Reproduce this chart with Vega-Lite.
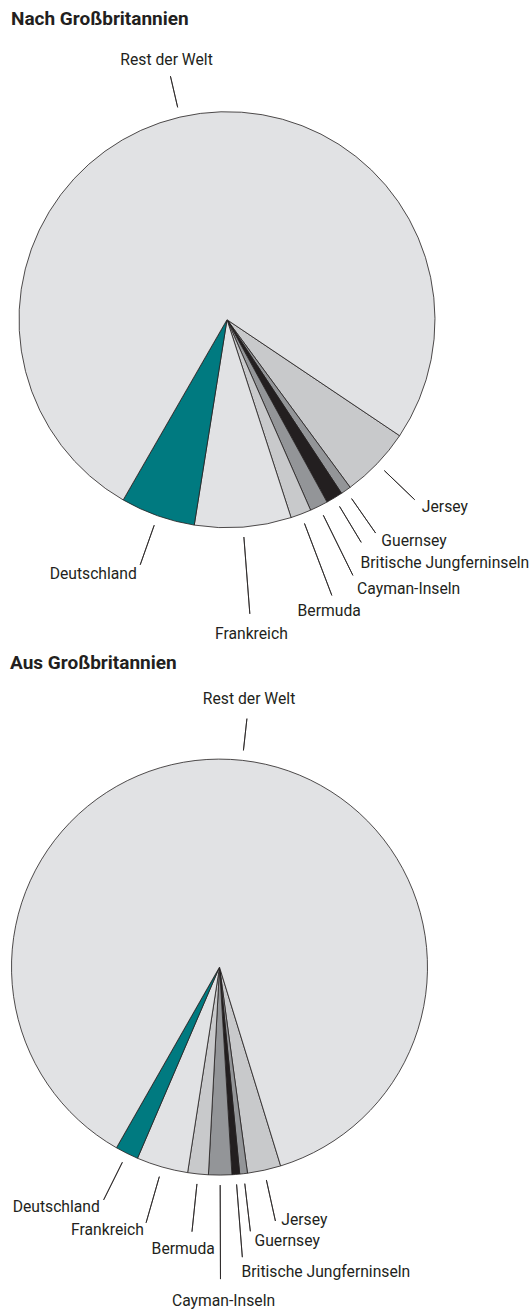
{
  "$schema": "https://vega.github.io/schema/vega-lite/v6.json",
  "padding": {"left": 9, "top": 10, "right": 0, "bottom": 0},
  "bounds": "flush",
  "spacing": 75.9,
  "config": {"view": {"stroke": null}},
  "datasets": {
    "nach": [
      {"land": "Jersey", "anteil": 5.5, "nr": 1},
      {"land": "Guernsey", "anteil": 0.8, "nr": 2},
      {"land": "Britische Jungferninseln", "anteil": 1.3, "nr": 3},
      {"land": "Cayman-Inseln", "anteil": 1.4, "nr": 4},
      {"land": "Bermuda", "anteil": 1.6, "nr": 5},
      {"land": "Frankreich", "anteil": 7.5, "nr": 6},
      {"land": "Deutschland", "anteil": 5.8, "nr": 7},
      {"land": "Rest der Welt", "anteil": 76.1, "nr": 8}
    ],
    "aus": [
      {"land": "Jersey", "anteil": 2.6, "nr": 1},
      {"land": "Guernsey", "anteil": 0.6, "nr": 2},
      {"land": "Britische Jungferninseln", "anteil": 0.6, "nr": 3},
      {"land": "Cayman-Inseln", "anteil": 1.8, "nr": 4},
      {"land": "Bermuda", "anteil": 1.6, "nr": 5},
      {"land": "Frankreich", "anteil": 4.0, "nr": 6},
      {"land": "Deutschland", "anteil": 1.8, "nr": 7},
      {"land": "Rest der Welt", "anteil": 87.0, "nr": 8}
    ]
  },
  "vconcat": [
    {
      "width": 434,
      "height": 567.4,
      "data": {"name": "nach"},
      "title": {"text": "Nach Großbritannien", "anchor": "start", "frame": "group", "offset": -8, "baseline": "alphabetic", "font": "Roboto", "fontSize": 19, "fontWeight": "bold", "color": "#231f20", "dx": 1},
      "layer": [
        {
          "transform": [{"stack": "anteil", "groupby": [], "sort": [{"field": "nr", "order": "ascending"}], "offset": "normalize", "as": ["t0", "t1"]}],
          "mark": {"type": "arc", "radius": 208, "stroke": "#231f20", "strokeWidth": 0.8},
          "encoding": {
            "theta": {"field": "t0", "type": "quantitative", "scale": {"domain": [0, 1], "range": [2.16247, 8.44566]}},
            "theta2": {"field": "t1"},
            "color": {"field": "land", "type": "nominal", "legend": null,
              "scale": {"domain": ["Rest der Welt", "Jersey", "Guernsey", "Britische Jungferninseln", "Cayman-Inseln", "Bermuda", "Frankreich", "Deutschland"],
                        "range": ["#e1e2e4", "#c8c9cb", "#939598", "#231f20", "#939598", "#c8c9cb", "#e1e2e4", "#007a80"]}}
          }
        },
        {
          "transform": [
            {"fold": ["anteil", "anteil"], "as": ["kopie", "wert"]},
            {"stack": "wert", "groupby": [], "sort": [{"field": "nr", "order": "ascending"}], "offset": "normalize", "as": ["h0", "h1"]},
            {"aggregate": [{"op": "min", "field": "h1", "as": "mitte"}], "groupby": ["land", "nr"]}
          ],
          "encoding": {
            "theta": {"field": "mitte", "type": "quantitative", "stack": null, "scale": {"domain": [0, 1], "range": [2.16247, 8.44566]}}
          },
          "layer": [
            {"transform": [{"filter": {"field": "land", "equal": "Rest der Welt"}}],
             "mark": {"type": "arc", "radius": 250, "radius2": 218, "filled": false, "stroke": "#231f20", "strokeWidth": 0.8},
             "encoding": {"theta2": {"field": "mitte"}}},
            {"transform": [{"filter": {"field": "land", "oneOf": ["Jersey", "Guernsey", "Britische Jungferninseln", "Deutschland"]}}],
             "mark": {"type": "arc", "radius": 260, "radius2": 218, "filled": false, "stroke": "#231f20", "strokeWidth": 0.8},
             "encoding": {"theta2": {"field": "mitte"}}},
            {"transform": [{"filter": {"field": "land", "equal": "Cayman-Inseln"}}],
             "mark": {"type": "arc", "radius": 285, "radius2": 218, "filled": false, "stroke": "#231f20", "strokeWidth": 0.8},
             "encoding": {"theta2": {"field": "mitte"}}},
            {"transform": [{"filter": {"field": "land", "oneOf": ["Bermuda", "Frankreich"]}}],
             "mark": {"type": "arc", "radius": 295, "radius2": 218, "filled": false, "stroke": "#231f20", "strokeWidth": 0.8},
             "encoding": {"theta2": {"field": "mitte"}}},
            {"transform": [{"filter": {"field": "land", "equal": "Rest der Welt"}}],
             "mark": {"type": "text", "radius": 267, "align": "center", "baseline": "middle", "font": "Roboto", "fontSize": 15.7, "fill": "#231f20"},
             "encoding": {"text": {"field": "land"}}},
            {"transform": [{"filter": {"field": "land", "oneOf": ["Jersey", "Guernsey"]}}],
             "mark": {"type": "text", "radius": 270, "align": "left", "baseline": "middle", "font": "Roboto", "fontSize": 15.7, "fill": "#231f20"},
             "encoding": {"text": {"field": "land"}}},
            {"transform": [{"filter": {"field": "land", "equal": "Britische Jungferninseln"}}],
             "mark": {"type": "text", "radius": 278, "dx": -10, "dy": 5, "align": "left", "baseline": "middle", "font": "Roboto", "fontSize": 15.7, "fill": "#231f20"},
             "encoding": {"text": {"field": "land"}}},
            {"transform": [{"filter": {"field": "land", "equal": "Cayman-Inseln"}}],
             "mark": {"type": "text", "radius": 299, "dx": -2, "dy": 1, "align": "left", "baseline": "middle", "font": "Roboto", "fontSize": 15.7, "fill": "#231f20"},
             "encoding": {"text": {"field": "land"}}},
            {"transform": [{"filter": {"field": "land", "equal": "Bermuda"}}],
             "mark": {"type": "text", "radius": 310, "dx": -8, "dy": 2, "align": "center", "baseline": "middle", "font": "Roboto", "fontSize": 15.7, "fill": "#231f20"},
             "encoding": {"text": {"field": "land"}}},
            {"transform": [{"filter": {"field": "land", "equal": "Frankreich"}}],
             "mark": {"type": "text", "radius": 315, "align": "center", "baseline": "middle", "font": "Roboto", "fontSize": 15.7, "fill": "#231f20"},
             "encoding": {"text": {"field": "land"}}},
            {"transform": [{"filter": {"field": "land", "equal": "Deutschland"}}],
             "mark": {"type": "text", "radius": 270, "align": "right", "baseline": "middle", "font": "Roboto", "fontSize": 15.7, "fill": "#231f20"},
             "encoding": {"text": {"field": "land"}}}
          ]
        }
      ]
    },
    {
      "width": 419,
      "height": 574.4,
      "data": {"name": "aus"},
      "title": {"text": "Aus Großbritannien", "anchor": "start", "frame": "group", "offset": -8, "baseline": "alphabetic", "font": "Roboto", "fontSize": 19, "fontWeight": "bold", "color": "#231f20"},
      "layer": [
        {
          "transform": [{"stack": "anteil", "groupby": [], "sort": [{"field": "nr", "order": "ascending"}], "offset": "normalize", "as": ["t0", "t1"]}],
          "mark": {"type": "arc", "radius": 208, "stroke": "#231f20", "strokeWidth": 0.8},
          "encoding": {
            "theta": {"field": "t0", "type": "quantitative", "scale": {"domain": [0, 1], "range": [2.84314, 9.12633]}},
            "theta2": {"field": "t1"},
            "color": {"field": "land", "type": "nominal", "legend": null,
              "scale": {"domain": ["Rest der Welt", "Jersey", "Guernsey", "Britische Jungferninseln", "Cayman-Inseln", "Bermuda", "Frankreich", "Deutschland"],
                        "range": ["#e1e2e4", "#c8c9cb", "#939598", "#231f20", "#939598", "#c8c9cb", "#e1e2e4", "#007a80"]}}
          }
        },
        {
          "transform": [
            {"fold": ["anteil", "anteil"], "as": ["kopie", "wert"]},
            {"stack": "wert", "groupby": [], "sort": [{"field": "nr", "order": "ascending"}], "offset": "normalize", "as": ["h0", "h1"]},
            {"aggregate": [{"op": "min", "field": "h1", "as": "mitte"}], "groupby": ["land", "nr"]}
          ],
          "encoding": {
            "theta": {"field": "mitte", "type": "quantitative", "stack": null, "scale": {"domain": [0, 1], "range": [2.84314, 9.12633]}}
          },
          "layer": [
            {"transform": [{"filter": {"field": "land", "equal": "Rest der Welt"}}],
             "mark": {"type": "arc", "radius": 250, "radius2": 218, "filled": false, "stroke": "#231f20", "strokeWidth": 0.8},
             "encoding": {"theta2": {"field": "mitte"}}},
            {"transform": [{"filter": {"field": "land", "oneOf": ["Jersey", "Deutschland"]}}],
             "mark": {"type": "arc", "radius": 260, "radius2": 218, "filled": false, "stroke": "#231f20", "strokeWidth": 0.8},
             "encoding": {"theta2": {"field": "mitte"}}},
            {"transform": [{"filter": {"field": "land", "oneOf": ["Guernsey", "Bermuda", "Frankreich"]}}],
             "mark": {"type": "arc", "radius": 266, "radius2": 218, "filled": false, "stroke": "#231f20", "strokeWidth": 0.8},
             "encoding": {"theta2": {"field": "mitte"}}},
            {"transform": [{"filter": {"field": "land", "equal": "Britische Jungferninseln"}}],
             "mark": {"type": "arc", "radius": 291, "radius2": 218, "filled": false, "stroke": "#231f20", "strokeWidth": 0.8},
             "encoding": {"theta2": {"field": "mitte"}}},
            {"transform": [{"filter": {"field": "land", "equal": "Cayman-Inseln"}}],
             "mark": {"type": "arc", "radius": 312, "radius2": 218, "filled": false, "stroke": "#231f20", "strokeWidth": 0.8},
             "encoding": {"theta2": {"field": "mitte"}}},
            {"transform": [{"filter": {"field": "land", "equal": "Rest der Welt"}}],
             "mark": {"type": "text", "radius": 269.5, "align": "center", "baseline": "middle", "font": "Roboto", "fontSize": 15.7, "fill": "#231f20"},
             "encoding": {"text": {"field": "land"}}},
            {"transform": [{"filter": {"field": "land", "equal": "Jersey"}}],
             "mark": {"type": "text", "radius": 259.5, "dx": 6, "dy": -1, "align": "left", "baseline": "middle", "font": "Roboto", "fontSize": 15.7, "fill": "#231f20"},
             "encoding": {"text": {"field": "land"}}},
            {"transform": [{"filter": {"field": "land", "equal": "Guernsey"}}],
             "mark": {"type": "text", "radius": 275.7, "dx": 3, "align": "left", "baseline": "middle", "font": "Roboto", "fontSize": 15.7, "fill": "#231f20"},
             "encoding": {"text": {"field": "land"}}},
            {"transform": [{"filter": {"field": "land", "equal": "Britische Jungferninseln"}}],
             "mark": {"type": "text", "radius": 306, "dx": -2, "align": "left", "baseline": "middle", "font": "Roboto", "fontSize": 15.7, "fill": "#231f20"},
             "encoding": {"text": {"field": "land"}}},
            {"transform": [{"filter": {"field": "land", "equal": "Cayman-Inseln"}}],
             "mark": {"type": "text", "radius": 333.5, "dx": 3, "align": "center", "baseline": "middle", "font": "Roboto", "fontSize": 15.7, "fill": "#231f20"},
             "encoding": {"text": {"field": "land"}}},
            {"transform": [{"filter": {"field": "land", "equal": "Bermuda"}}],
             "mark": {"type": "text", "radius": 283, "dx": -7, "align": "center", "baseline": "middle", "font": "Roboto", "fontSize": 15.7, "fill": "#231f20"},
             "encoding": {"text": {"field": "land"}}},
            {"transform": [{"filter": {"field": "land", "equal": "Frankreich"}}],
             "mark": {"type": "text", "radius": 274, "align": "right", "baseline": "middle", "font": "Roboto", "fontSize": 15.7, "fill": "#231f20"},
             "encoding": {"text": {"field": "land"}}},
            {"transform": [{"filter": {"field": "land", "equal": "Deutschland"}}],
             "mark": {"type": "text", "radius": 268.5, "align": "right", "baseline": "middle", "font": "Roboto", "fontSize": 15.7, "fill": "#231f20"},
             "encoding": {"text": {"field": "land"}}}
          ]
        }
      ]
    }
  ]
}
